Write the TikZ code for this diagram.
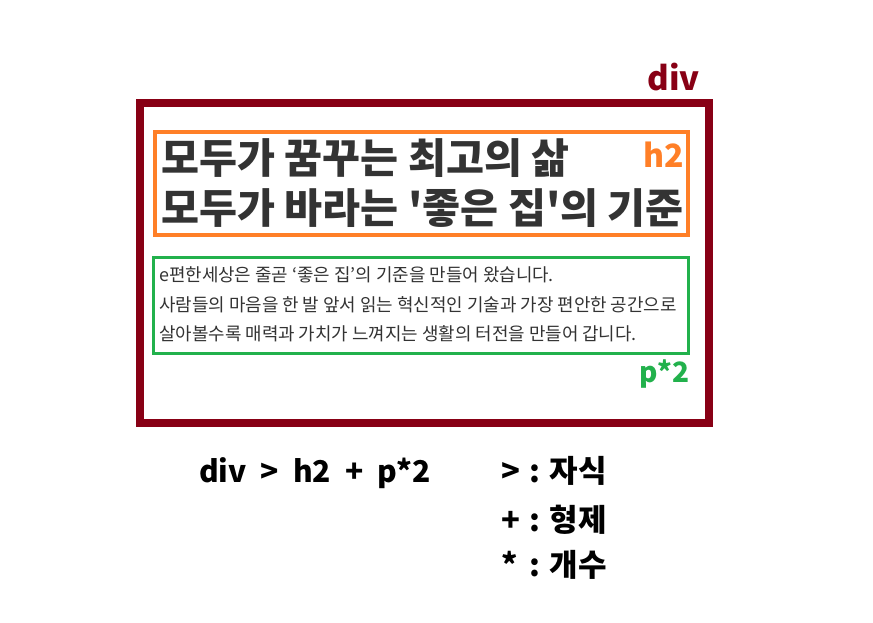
\documentclass[tikz,border=0pt]{standalone}
\usepackage{fontspec}
\setmainfont{Noto Sans CJK KR}
\newfontfamily\kr{Noto Sans CJK KR}
\definecolor{divred}{HTML}{880015}
\definecolor{horange}{HTML}{FF7F27}
\definecolor{pgreen}{HTML}{22B14C}
\definecolor{txt}{HTML}{333333}
\tikzset{
  lbl/.style={font=\kr\bfseries\fontsize{#1}{#1}\selectfont, inner sep=0pt},
  headline/.style={font=\kr\bfseries\fontsize{41.3}{41.3}\selectfont, text=txt, anchor=west, inner sep=0pt},
  pline/.style={font=\kr\fontsize{17.9}{17.9}\selectfont, text=txt, anchor=west, inner sep=0pt},
}
\begin{document}
\begin{tikzpicture}[x=1pt,y=-1pt]
\useasboundingbox[fill=white] (0,0) rectangle (873,622);
% boxes
\draw[divred, line width=8pt] (140,103) rectangle (709,423);
\draw[horange, line width=4pt] (155,132) rectangle (688,235);
\draw[pgreen, line width=3pt] (153.5,257.5) rectangle (688.5,353.5);
% labels
\node[lbl=33, text=divred, anchor=base east] (ldiv) at (700,90) {div};
\node[lbl=32, text=horange, anchor=base east] (lh2) at (684,167) {h2};
\node[lbl=28, text=pgreen, anchor=base east] (lp) at (690,382) {p*2};
% heading
\node[headline] (h1) at (161,158) {모두가 꿈꾸는 최고의 삶};
\node[headline] (h2) at (161,208) {모두가 바라는 '좋은 집'의 기준};
% paragraph
\node[pline] (p1) at (159,275) {e편한세상은 줄곧 ‘좋은 집’의 기준을 만들어 왔습니다.};
\node[pline] (p2) at (159,305) {사람들의 마음을 한 발 앞서 읽는 혁신적인 기술과 가장 편안한 공간으로};
\node[pline] (p3) at (159,334) {살아볼수록 매력과 가치가 느껴지는 생활의 터전을 만들어 갑니다.};
% bottom
\node[lbl=30, anchor=west] (sel) at (199,473) {div\hspace{14pt}>\hspace{14pt}h2\hspace{14pt}+\hspace{14pt}p*2};
\node[lbl=31, anchor=east] (r1) at (607,471) {>\hspace{10pt}:\hspace{9pt}자식};
\node[lbl=31, anchor=east] (r2) at (607,520) {+\hspace{10pt}:\hspace{9pt}형제};
\node[lbl=31, anchor=east] (r3) at (607,565) {*\hspace{12pt}:\hspace{9pt}개수};
\end{tikzpicture}
\end{document}
